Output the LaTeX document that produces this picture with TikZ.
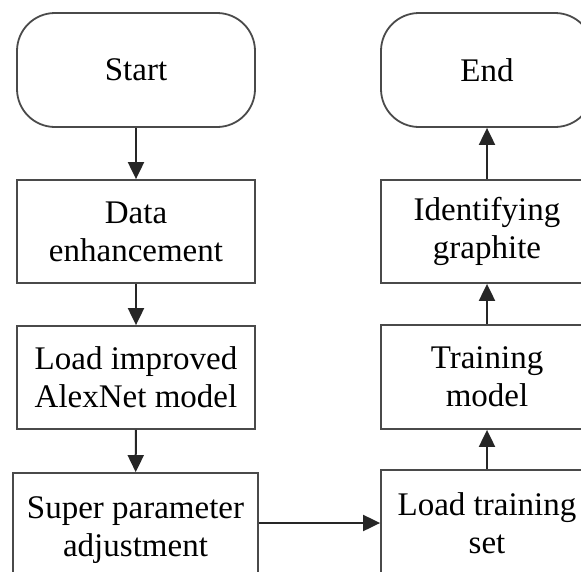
\documentclass[tikz,border=0pt]{standalone}
\usepackage{fontspec}
\setmainfont{Liberation Serif}
\usetikzlibrary{arrows.meta}
\definecolor{boxgray}{HTML}{4A4A4A}
\tikzset{
  stepbox/.style={draw=boxgray, line width=1.8pt, align=center, inner sep=0pt,
    font=\fontsize{33}{38}\selectfont},
  leftcol/.style={stepbox, minimum width=238pt, minimum height=103pt},
  rightcol/.style={stepbox, minimum width=212pt, minimum height=103pt},
  terminal/.style={rounded corners=38pt},
  flow/.style={line width=2pt, draw=black!85, -{Triangle[length=17pt,width=16pt]}}
}
\begin{document}
\begin{tikzpicture}[x=1pt,y=-1pt]
\useasboundingbox (0,0) rectangle (581,571);
\clip (0,0) rectangle (581,571);
\fill[white] (0,0) rectangle (581,571);

% left column
\node[leftcol, terminal, minimum height=114pt] (start) at (136,70) {Start};
\node[leftcol] (data) at (136,231.5) {Data\\enhancement};
\node[leftcol] (load) at (136,377.5) {Load improved\\AlexNet model};
\node[stepbox, minimum width=245pt, minimum height=114pt] (super) at (135.5,530) {Super parameter\\adjustment};

% right column
\node[rightcol, terminal, minimum height=114pt] (end) at (487,70) {End};
\node[rightcol] (ident) at (487,231.5) {Identifying\\graphite};
\node[rightcol, minimum height=104pt] (train) at (487,377) {Training\\model};
\node[rightcol, minimum height=106pt] (lts) at (487,523) {Load training\\set};

% connectors
\draw[flow] (start) -- (data);
\draw[flow] (data) -- (load);
\draw[flow] (load) -- (super);
\draw[flow] (super.east |- lts.west) -- (lts.west);
\draw[flow] (lts) -- (train);
\draw[flow] (train) -- (ident);
\draw[flow] (ident) -- (end);
\end{tikzpicture}
\end{document}
